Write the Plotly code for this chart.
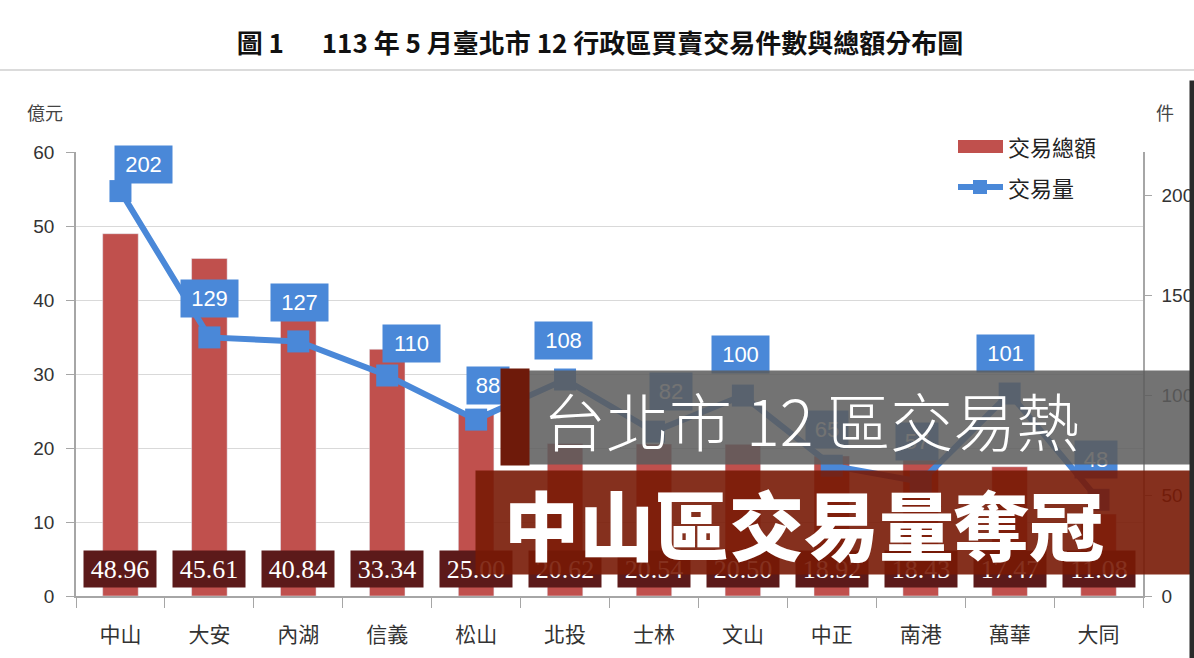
import plotly.graph_objects as go

# ---------------- data ----------------
districts = ["中山", "大安", "內湖", "信義", "松山", "北投", "士林", "文山", "中正", "南港", "萬華", "大同"]
amount = [48.96, 45.61, 40.84, 33.34, 25.00, 20.62, 20.54, 20.50, 18.92, 18.43, 17.47, 11.08]   # 億元
count = [202, 129, 127, 110, 88, 108, 82, 100, 65, 57, 101, 48]                                  # 件
left_ticks = [0, 10, 20, 30, 40, 50, 60]
right_ticks = [0, 50, 100, 150, 200]

title_text = "圖 1　  113 年 5 月臺北市 12 行政區買賣交易件數與總額分布圖"
headline_1 = "台北市 12 區交易熱"
headline_2 = "中山區交易量奪冠"

# ---------------- geometry helpers (pixel -> paper) ----------------
W, H = 1194, 658
L, R, T, B = 76, 1143, 152, 596


def px(x):
    return (x - L) / (R - L)


def py(y):
    return (B - y) / (B - T)


BLUE = "#4a88d8"
RED = "#c0504d"
CJK = "Noto Sans CJK TC"
NUM = "Liberation Sans"

fig = go.Figure()
fig.add_trace(go.Bar(x=districts, y=amount, marker_color=RED, width=0.4,
                     name="交易總額", yaxis="y", showlegend=False, hoverinfo="skip"))
fig.add_trace(go.Scatter(x=districts, y=count, mode="lines+markers", name="交易量",
                         line=dict(color=BLUE, width=6),
                         marker=dict(symbol="square", size=22, color=BLUE),
                         yaxis="y2", showlegend=False, hoverinfo="skip"))

annotations = []

# line data labels (manually nudged, as in the source chart)
label_dx = [23, 0, 1, 24, 12, -2, 17, -2, -5, -4, -4, -3]
label_dy = [27, 39, 39, 32, 34, 39, 40, 41, 36, 40, 40, 40]
for d, c, dx, dy in zip(districts, count, label_dx, label_dy):
    annotations.append(dict(x=d, y=c, xref="x", yref="y2", xshift=dx, yshift=dy,
                            text=str(c), showarrow=False,
                            font=dict(family=NUM, size=22, color="white"),
                            bgcolor=BLUE, width=49 if c >= 100 else 34, height=29,
                            borderpad=4))

# bar data labels
for d, v in zip(districts, amount):
    annotations.append(dict(x=d, y=0, xref="x", yref="y", yshift=27,
                            text=f"{v:.2f}", showarrow=False,
                            font=dict(family="Liberation Sans Narrow", size=26, color="white"),
                            bgcolor="#5c1a1a", width=64, height=28, borderpad=4))

# axis titles
annotations.append(dict(x=px(45), y=py(112), xref="paper", yref="paper", text="億元",
                        xanchor="center", yanchor="middle",
                        showarrow=False, font=dict(family=CJK, size=18, color="#444")))
annotations.append(dict(x=px(1165), y=py(112), xref="paper", yref="paper", text="件",
                        xanchor="center", yanchor="middle",
                        showarrow=False, font=dict(family=CJK, size=18, color="#444")))

# legend text
annotations.append(dict(x=px(1006), y=py(146), xref="paper", yref="paper", text="交易總額",
                        xanchor="left", yanchor="middle", showarrow=False,
                        font=dict(family=CJK, size=22, color="#222")))
annotations.append(dict(x=px(1006), y=py(187), xref="paper", yref="paper", text="交易量",
                        xanchor="left", yanchor="middle", showarrow=False,
                        font=dict(family=CJK, size=22, color="#222")))

# overlay banners (annotations so they sit above data labels)
annotations.append(dict(x=px(505), y=py(370), xref="paper", yref="paper", xanchor="left",
                        yanchor="top", text=" ", showarrow=False, width=689, height=93,
                        borderpad=0, bgcolor="rgba(92,92,92,0.86)"))
annotations.append(dict(x=px(500), y=py(368), xref="paper", yref="paper", xanchor="left",
                        yanchor="top", text=" ", showarrow=False, width=28, height=96,
                        borderpad=0, bgcolor="#6e1a0a"))
annotations.append(dict(x=px(541), y=py(418), xref="paper", yref="paper", xanchor="left",
                        yanchor="middle", text=headline_1, showarrow=False,
                        font=dict(family=CJK, size=63, color="white", weight=300)))
annotations.append(dict(x=px(475), y=py(470), xref="paper", yref="paper", xanchor="left",
                        yanchor="top", text=" ", showarrow=False, width=719, height=103,
                        borderpad=0, bgcolor="rgba(120,25,5,0.9)"))
annotations.append(dict(x=px(502), y=py(522), xref="paper", yref="paper", xanchor="left",
                        yanchor="middle", text=headline_2, showarrow=False,
                        font=dict(family=CJK, size=75, color="white", weight=900)))
# dark right edge (as annotation so it lies above everything)
annotations.append(dict(x=px(1189), y=py(80), xref="paper", yref="paper", xanchor="left",
                        yanchor="top", text=" ", showarrow=False, width=5, height=578,
                        borderpad=0, bgcolor="#2a2a2a"))

shapes = [
    # title rule
    dict(type="line", xref="paper", yref="paper", x0=px(0), x1=px(W), y0=py(70), y1=py(70),
         line=dict(color="#cfcfcf", width=1.5)),
    # legend swatches
    dict(type="rect", xref="paper", yref="paper", x0=px(958), x1=px(1003), y0=py(153), y1=py(140),
         fillcolor=RED, line=dict(width=0)),
    dict(type="line", xref="paper", yref="paper", x0=px(958), x1=px(1003), y0=py(187), y1=py(187),
         line=dict(color=BLUE, width=6)),
    dict(type="rect", xref="paper", yref="paper", x0=px(973), x1=px(987), y0=py(194), y1=py(180),
         fillcolor=BLUE, line=dict(width=0)),
]

fig.update_layout(
    width=W, height=H,
    margin=dict(l=L, r=W - R, t=T, b=H - B, autoexpand=False),
    paper_bgcolor="white", plot_bgcolor="white",
    title=dict(text=title_text, x=600 / W, xref="container", xanchor="center",
               y=1 - 44 / H, yref="container", yanchor="middle", automargin=False,
               font=dict(family=CJK, size=26, color="#111", weight="bold")),
    xaxis=dict(type="category", range=[-0.5, 11.5], autorange=False, automargin=False,
               showline=True, linecolor="#a6a6a6", linewidth=1.5,
               ticks="outside", tickson="boundaries", ticklen=10, tickcolor="#a6a6a6",
               tickfont=dict(family=CJK, size=21, color="#333"), ticklabelstandoff=19,
               showgrid=False),
    yaxis=dict(range=[0, 60], autorange=False, automargin=False, tickvals=left_ticks,
               showgrid=True, gridcolor="#d9d9d9",
               gridwidth=1, showline=True, linecolor="#a6a6a6", linewidth=1.5,
               ticks="outside", ticklen=8, tickcolor="#a6a6a6", zeroline=False,
               tickfont=dict(family=NUM, size=19, color="#333"), ticklabelstandoff=8),
    yaxis2=dict(range=[0, 221.5], autorange=False, automargin=False, tickvals=right_ticks,
                overlaying="y", side="right",
                showgrid=False, showline=True, linecolor="#a6a6a6", linewidth=1.5,
                ticks="outside", ticklen=7, tickcolor="#a6a6a6", zeroline=False,
                tickfont=dict(family=NUM, size=19, color="#333"), ticklabelstandoff=6),
    annotations=annotations,
    shapes=shapes,
)

fig.write_html("out.html")
